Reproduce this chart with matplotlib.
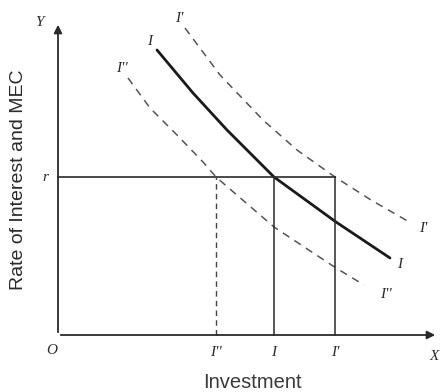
import matplotlib
matplotlib.use("Agg")
import matplotlib.pyplot as plt

# origin O = (0, 0)
mec_x = [99, 135, 169, 216, 278, 332]
mec_y = [285, 242, 205, 158, 113, 77]

up_x = [127, 162, 205, 239, 277, 313, 353]      # I' (shifted right)
up_y = [307, 260, 215, 185, 158, 135, 112]

down_x = [70, 92, 119, 145, 158, 216, 278, 306]  # I'' (shifted left)
down_y = [257, 227, 200, 173, 158, 108, 67, 50]

rate = 158
inv_ticks = [158, 216, 277]
inv_labels = ["I''", "I", "I'"]

fig = plt.figure(figsize=(4.42, 3.92), dpi=100)
ax = fig.add_axes([0, 0, 1, 1])
ax.set_xlim(-58, 384)
ax.set_ylim(-57, 335)
ax.axis("off")

ink = "#2a2a2a"
serif = dict(family="Liberation Serif", style="italic", color=ink)

# axes with arrow heads
ax.annotate("", xy=(380, 0), xytext=(0, 0),
            arrowprops=dict(arrowstyle="-|>", color=ink, lw=1.3, mutation_scale=12))
ax.annotate("", xy=(0, 313), xytext=(0, 0),
            arrowprops=dict(arrowstyle="-|>", color=ink, lw=1.3, mutation_scale=12))

# curves
ax.plot(mec_x, mec_y, color="#1a1a1a", lw=2.0, solid_capstyle="round", solid_joinstyle="round")
ax.plot(up_x, up_y, color="#555555", lw=1.1, dashes=(5, 4))
ax.plot(down_x, down_y, color="#555555", lw=1.1, dashes=(5, 4))

# rate of interest and the investment levels
ax.plot([0, inv_ticks[2]], [rate, rate], color=ink, lw=1.2)
ax.plot([inv_ticks[0], inv_ticks[0]], [0, rate], color="#444444", lw=1.0, dashes=(4, 3))
ax.plot([inv_ticks[1], inv_ticks[1]], [0, rate], color=ink, lw=1.1)
ax.plot([inv_ticks[2], inv_ticks[2]], [0, rate], color=ink, lw=1.1)

for xv, lab in zip(inv_ticks, inv_labels):
    ax.text(xv, -17, lab, ha="center", va="center", fontsize=11, **serif)
ax.text(-13, rate, "r", ha="center", va="center", fontsize=11, **serif)
ax.text(-6, -15, "O", ha="center", va="center", fontsize=11, **serif)
ax.text(376, -21, "X", ha="center", va="center", fontsize=11, **serif)
ax.text(-19, 313, "Y", ha="center", va="center", fontsize=11, **serif)

# curve labels
ax.text(mec_x[0] - 7, mec_y[0] + 9, "I", ha="center", va="center", fontsize=11, **serif)
ax.text(mec_x[-1] + 10, mec_y[-1] - 6, "I", ha="center", va="center", fontsize=11, **serif)
ax.text(up_x[0] - 6, up_y[0] + 10, "I'", ha="center", va="center", fontsize=11, **serif)
ax.text(up_x[-1] + 12, up_y[-1] - 5, "I'", ha="center", va="center", fontsize=11, **serif)
ax.text(down_x[0] - 6, down_y[0] + 10, "I''", ha="center", va="center", fontsize=11, **serif)
ax.text(down_x[-1] + 22, down_y[-1] - 9, "I''", ha="center", va="center", fontsize=11, **serif)

ax.text(-39, 155, "Rate of Interest and MEC", rotation=90, ha="center", va="center",
        fontsize=14, family="Liberation Sans", color=ink)
ax.text(194, -47, "Investment", ha="center", va="center",
        fontsize=14.5, family="Liberation Sans", color="#3a3a3a")

fig.savefig("out.png", dpi=100)
